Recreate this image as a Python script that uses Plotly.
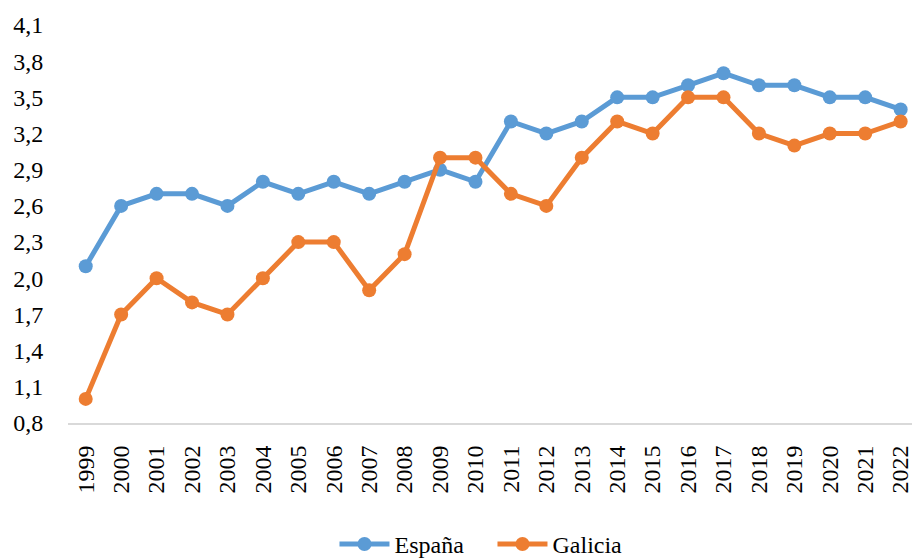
import plotly.graph_objects as go

years = [str(y) for y in range(1999, 2023)]
espana = [2.1, 2.6, 2.7, 2.7, 2.6, 2.8, 2.7, 2.8, 2.7, 2.8, 2.9, 2.8,
          3.3, 3.2, 3.3, 3.5, 3.5, 3.6, 3.7, 3.6, 3.6, 3.5, 3.5, 3.4]
galicia = [1.0, 1.7, 2.0, 1.8, 1.7, 2.0, 2.3, 2.3, 1.9, 2.2, 3.0, 3.0,
           2.7, 2.6, 3.0, 3.3, 3.2, 3.5, 3.5, 3.2, 3.1, 3.2, 3.2, 3.3]
yticks = [0.8, 1.1, 1.4, 1.7, 2.0, 2.3, 2.6, 2.9, 3.2, 3.5, 3.8, 4.1]
ytick_labels = [f"{v:.1f}".replace(".", ",") for v in yticks]

FONT = "Liberation Serif"
FS = 24

fig = go.Figure()
fig.add_trace(go.Scatter(x=list(range(len(years))), y=espana, name="España",
                         mode="lines+markers",
                         line=dict(color="#5B9BD5", width=5),
                         marker=dict(color="#5B9BD5", size=14)))
fig.add_trace(go.Scatter(x=list(range(len(years))), y=galicia, name="Galicia",
                         mode="lines+markers",
                         line=dict(color="#ED7D31", width=5),
                         marker=dict(color="#ED7D31", size=14)))

fig.update_layout(
    width=912, height=559,
    margin=dict(l=68, r=0, t=25, b=136, autoexpand=False),
    paper_bgcolor="white", plot_bgcolor="white",
    font=dict(family=FONT, size=FS, color="black"),
    showlegend=True,
    legend=dict(orientation="h", xref="container", yref="container",
                x=0.540, y=0.026, xanchor="center", yanchor="middle",
                font=dict(family=FONT, size=FS, color="black"),
                itemwidth=50, entrywidth=93, bgcolor="rgba(0,0,0,0)"),
)
fig.update_xaxes(
    tickmode="array", tickvals=list(range(len(years))), ticktext=years,
    tickangle=-90, range=[-0.5, 23.32], showgrid=False, zeroline=False,
    showline=True, linecolor="#D9D9D9", linewidth=2, automargin=False,
    ticks="outside", ticklen=11, tickcolor="rgba(0,0,0,0)",
    ticklabeloverflow="allow",
    tickfont=dict(family=FONT, size=FS, color="black"),
)
fig.update_yaxes(
    tickmode="array", tickvals=yticks, ticktext=ytick_labels,
    range=[0.8, 4.1], showgrid=False, zeroline=False, showline=False,
    automargin=False,
    ticks="outside", ticklen=19, tickcolor="rgba(0,0,0,0)",
    tickfont=dict(family=FONT, size=FS, color="black"),
)

fig.write_html(
    "out.html",
    config={"displayModeBar": False},
    post_script="document.body.style.margin='0';document.body.style.overflow='hidden';",
)
